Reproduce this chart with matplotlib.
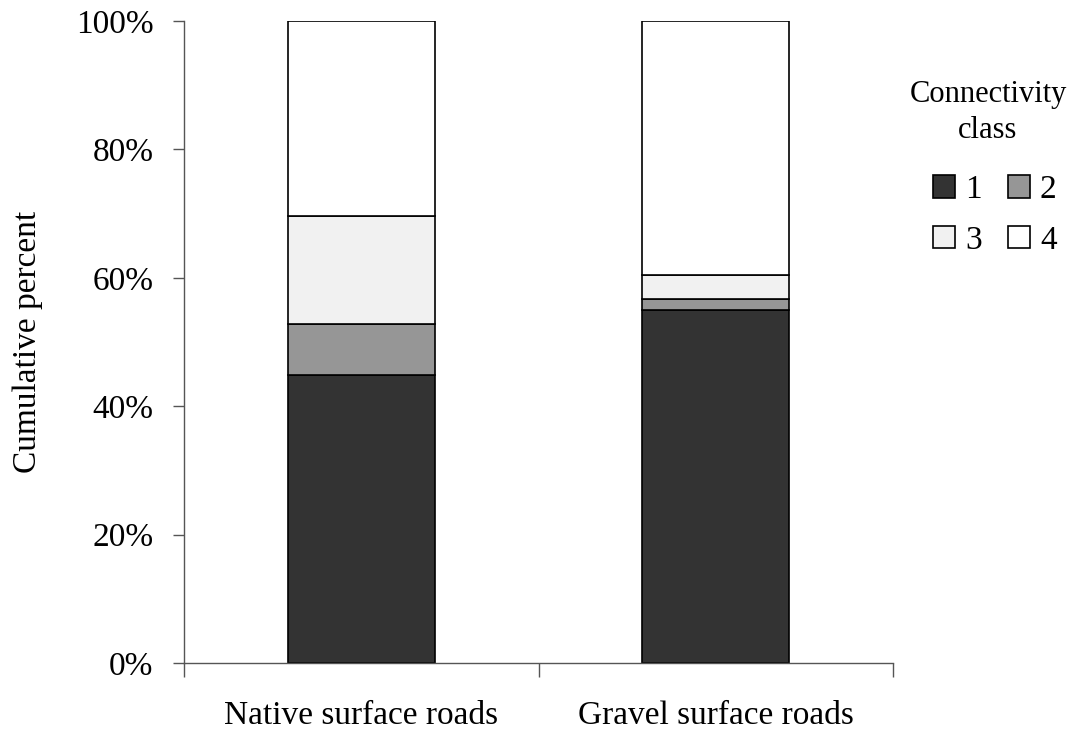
import numpy as np
import matplotlib.pyplot as plt
from matplotlib.ticker import FuncFormatter

plt.rcParams['font.family'] = ['Liberation Serif', 'DejaVu Serif']

categories = ["Native surface roads", "Gravel surface roads"]
classes = ["1", "2", "3", "4"]
# percent of road length in each connectivity class
class1 = [44.9, 55.0]
class2 = [7.9, 1.7]
class3 = [16.8, 3.7]
class4 = [30.4, 39.6]

colors = ["#333333", "#969696", "#f1f1f1", "#ffffff"]

fig = plt.figure(figsize=(10.78, 7.31), dpi=100)
ax = fig.add_axes([0.1707, 0.093, 0.6577, 0.8783])

x = np.arange(len(categories))
bottom = np.zeros(len(categories))
handles = []
for vals, c, lab in zip([class1, class2, class3, class4], colors, classes):
    b = ax.bar(x, vals, width=0.415, bottom=bottom, color=c,
               edgecolor="black", linewidth=1.2, label=lab)
    handles.append(b)
    bottom += np.array(vals)

ax.set_xlim(-0.5, 1.5)
ax.set_ylim(0, 100)
ax.set_yticks(np.arange(0, 101, 20))
ax.yaxis.set_major_formatter(FuncFormatter(lambda v, p: f"{v:.0f}%"))
ax.set_xticks([-0.5, 0.5, 1.5])
ax.set_xticklabels([])
ax.set_xticks(x, minor=True)
ax.set_xticklabels(categories, minor=True)
ax.tick_params(axis="x", which="major", direction="out", length=10, width=1,
               color="#555555")
ax.tick_params(axis="x", which="minor", length=0, pad=27, labelsize=24)
ax.tick_params(axis="y", direction="out", length=8, width=1, labelsize=24,
               pad=14, color="#555555")
for s in ["top", "right"]:
    ax.spines[s].set_visible(False)
for s in ["left", "bottom"]:
    ax.spines[s].set_linewidth(1)
    ax.spines[s].set_color("#555555")
ax.set_ylabel("Cumulative percent", fontsize=24, labelpad=24)

# legend title drawn separately so the key can sit a bit right of it
fig.text(0.9165, 0.846, "Connectivity\nclass", ha="center", va="center",
         fontsize=22, linespacing=1.3, multialignment="center")

# legend reads row-wise: 1 2 / 3 4
order = [0, 2, 1, 3]
leg = fig.legend([handles[i] for i in order], [classes[i] for i in order],
                 ncol=2, loc="upper center",
                 bbox_to_anchor=(0.923, 0.802), frameon=False,
                 fontsize=24, handlelength=0.65, handleheight=0.65,
                 handletextpad=0.3, columnspacing=0.8, labelspacing=0.6)

fig.savefig("out.png", dpi=100)
